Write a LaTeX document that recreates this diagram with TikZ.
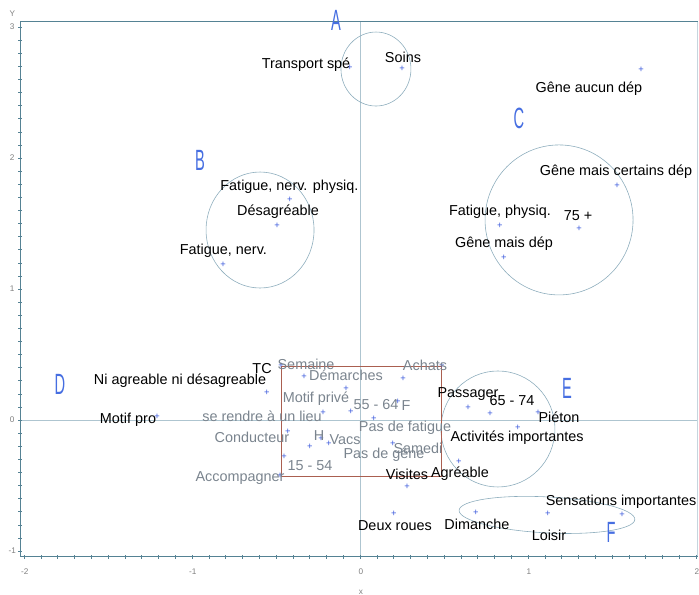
\documentclass[tikz,border=0pt]{standalone}
\usepackage{fontspec}
\setmainfont{Liberation Sans}
\usepackage{tikz}

\definecolor{markblue}{RGB}{60,90,220}
\definecolor{lettblue}{RGB}{70,110,225}
\definecolor{ringcol}{RGB}{140,172,188}
\definecolor{boxcol}{RGB}{170,95,80}
\definecolor{axiscol}{RGB}{85,130,148}
\definecolor{greytxt}{RGB}{122,132,142}

\begin{document}
\begin{tikzpicture}[
    x=5.04cm, y=3.93cm,
    lbl/.style={font=\fontsize{12.3}{14}\selectfont, inner sep=0pt},
    glbl/.style={lbl, text=greytxt},
    pnt/.style={font=\fontsize{8}{8}\selectfont, text=markblue, inner sep=0pt},
    grp/.style={font=\fontsize{25}{25}\selectfont, text=lettblue, xscale=0.5, inner sep=0pt},
    ring/.style={draw=ringcol, line width=0.5pt},
    axis/.style={draw=axiscol, line width=0.6pt},
    ticklbl/.style={font=\fontsize{7}{7}\selectfont, text=gray, inner sep=0pt}
]
    \useasboundingbox (-2.143,-1.336) rectangle (2.018,3.206);

    % frame and axes
    \draw[ringcol!70] (0,-1.045) -- (0,3.04);
    \draw[ringcol!70] (-2.02,0) -- (2.01,0);
    \draw[ringcol!50] (2.01,-1.045) -- (2.01,3.04);
    \draw[axis] (-2.02,-1.045) -- (-2.02,3.04) -- (2.01,3.04);
    \draw[axis] (-2.02,-1.045) -- (2.01,-1.045);
    \foreach \v in {-10,...,30}
        \draw[axiscol] (-2.02,\v/10) ++(-2pt,0) -- ++(3.5pt,0);
    \foreach \u in {-20,...,20}
        \draw[axiscol] (\u/10,-1.045) ++(0,1.5pt) -- ++(0,-3.5pt);
    \foreach \v in {-1,0,1,2,3}
        \node[ticklbl] (yl\v) at (-2.07,\v) {\v};
    \foreach \u in {-2,-1,0,1,2}
        \node[ticklbl] (xl\u) at (\u+0.005,-1.16) {\u};
    \node[ticklbl] (ynm) at (-2.07,3.1) {Y};
    \node[ticklbl] (xnm) at (0.005,-1.313) {x};

    % groups
    \draw[ring] (0.095,2.679) ellipse [x radius=1.05cm, y radius=1.11cm];
    \draw[ring] (-0.595,1.450) ellipse [x radius=1.62cm, y radius=1.74cm];
    \draw[ring] (1.185,1.527) ellipse [x radius=2.22cm, y radius=2.25cm];
    \draw[ring] (0.821,-0.069) ellipse [x radius=1.71cm, y radius=1.74cm];
    \draw[ring, rotate around={-3:(1.113,-0.725)}] (1.113,-0.725) ellipse [x radius=2.64cm, y radius=0.54cm];
    \draw[boxcol, line width=0.6pt] (-0.470,0.412) rectangle (0.482,-0.427);

    \node[grp] (grpA) at (-0.143,3.053) {A};
    \node[grp] (grpB) at (-0.952,1.985) {B};
    \node[grp] (grpC) at (0.946,2.305) {C};
    \node[grp] (grpD) at (-1.786,0.275) {D};
    \node[grp] (grpE) at (1.232,0.244) {E};
    \node[grp] (grpF) at (1.494,-0.855) {F};

    % points
    \node[pnt] (p1) at (-0.060,2.687) {+};
    \node[pnt] (p2) at (0.250,2.679) {+};
    \node[pnt] (p3) at (1.673,2.672) {+};
    \node[pnt] (p4) at (-0.417,1.679) {+};
    \node[pnt] (p5) at (-0.494,1.481) {+};
    \node[pnt] (p6) at (-0.815,1.183) {+};
    \node[pnt] (p7) at (1.530,1.786) {+};
    \node[pnt] (p8) at (0.833,1.481) {+};
    \node[pnt] (p9) at (1.304,1.458) {+};
    \node[pnt] (p10) at (0.857,1.237) {+};
    \node[pnt] (p11) at (-0.554,0.206) {+};
    \node[pnt] (p12) at (-0.470,0.412) {+};
    \node[pnt] (p13) at (-1.208,0.023) {+};
    \node[pnt] (p14) at (-0.333,0.328) {+};
    \node[pnt] (p15) at (0.488,0.412) {+};
    \node[pnt] (p16) at (0.256,0.313) {+};
    \node[pnt] (p17) at (-0.083,0.237) {+};
    \node[pnt] (p18) at (-0.054,0.061) {+};
    \node[pnt] (p19) at (0.226,0.137) {+};
    \node[pnt] (p20) at (0.083,0.008) {+};
    \node[pnt] (p21) at (-0.220,0.053) {+};
    \node[pnt] (p22) at (-0.429,-0.092) {+};
    \node[pnt] (p23) at (-0.232,-0.145) {+};
    \node[pnt] (p24) at (-0.298,-0.206) {+};
    \node[pnt] (p25) at (-0.185,-0.183) {+};
    \node[pnt] (p26) at (0.196,-0.183) {+};
    \node[pnt] (p27) at (-0.452,-0.282) {+};
    \node[pnt] (p28) at (-0.476,-0.427) {+};
    \node[pnt] (p29) at (0.280,-0.511) {+};
    \node[pnt] (p30) at (0.589,-0.321) {+};
    \node[pnt] (p31) at (0.202,-0.718) {+};
    \node[pnt] (p32) at (0.690,-0.710) {+};
    \node[pnt] (p33) at (1.119,-0.718) {+};
    \node[pnt] (p34) at (1.560,-0.725) {+};
    \node[pnt] (p35) at (0.643,0.092) {+};
    \node[pnt] (p36) at (0.774,0.046) {+};
    \node[pnt] (p37) at (1.060,0.053) {+};
    \node[pnt] (p38) at (0.940,-0.061) {+};

    % labels
    \node[lbl] (transp) at (-0.321,2.710) {Transport spé};
    \node[lbl] (soins) at (0.256,2.771) {Soins};
    \node[lbl] (geneauc) at (1.363,2.527) {Gêne aucun dép};
    \node[lbl] (fatnp) at (-0.420,1.779) {Fatigue, nerv. physiq.};
    \node[lbl] (desag) at (-0.488,1.588) {Désagréable};
    \node[lbl] (fatn) at (-0.813,1.290) {Fatigue, nerv.};
    \node[lbl] (genecert) at (1.524,1.893) {Gêne mais certains dép};
    \node[lbl] (fatp) at (0.833,1.588) {Fatigue, physiq.};
    \node[lbl] (age75) at (1.298,1.557) {75 +};
    \node[lbl] (genedep) at (0.857,1.344) {Gêne mais dép};
    \node[lbl] (niagr) at (-1.071,0.298) {Ni agreable ni désagreable};
    \node[lbl] (tc) at (-0.583,0.389) {TC};
    \node[lbl] (motpro) at (-1.381,0.0) {Motif pro};
    \node[glbl] (semaine) at (-0.321,0.427) {Semaine};
    \node[glbl] (demarch) at (-0.083,0.344) {Démarches};
    \node[glbl] (achats) at (0.387,0.420) {Achats};
    \node[glbl] (motpriv) at (-0.262,0.160) {Motif privé};
    \node[glbl] (age55) at (0.095,0.115) {55 - 64};
    \node[glbl] (femme) at (0.274,0.107) {F};
    \node[glbl] (lieu) at (-0.583,0.031) {se rendre à un lieu};
    \node[glbl] (pasfat) at (0.268,-0.061) {Pas de fatigue};
    \node[glbl] (conduct) at (-0.643,-0.130) {Conducteur};
    \node[glbl] (homme) at (-0.244,-0.122) {H};
    \node[glbl] (vacs) at (-0.089,-0.153) {Vacs};
    \node[glbl] (samedi) at (0.345,-0.214) {Samedi};
    \node[glbl] (pasgene) at (0.143,-0.267) {Pas de gêne};
    \node[glbl] (age15) at (-0.298,-0.351) {15 - 54};
    \node[glbl] (accomp) at (-0.714,-0.443) {Accompagner};
    \node[lbl] (visites) at (0.280,-0.412) {Visites};
    \node[lbl] (agreab) at (0.595,-0.412) {Agréable};
    \node[lbl] (deuxr) at (0.208,-0.809) {Deux roues};
    \node[lbl] (dimanche) at (0.696,-0.794) {Dimanche};
    \node[lbl] (loisir) at (1.125,-0.878) {Loisir};
    \node[lbl] (sensat) at (1.554,-0.626) {Sensations importantes};
    \node[lbl] (passag) at (0.643,0.198) {Passager};
    \node[lbl] (age65) at (0.905,0.145) {65 - 74};
    \node[lbl] (pieton) at (1.185,0.023) {Piéton};
    \node[lbl] (activ) at (0.935,-0.137) {Activités importantes};
\end{tikzpicture}
\end{document}
